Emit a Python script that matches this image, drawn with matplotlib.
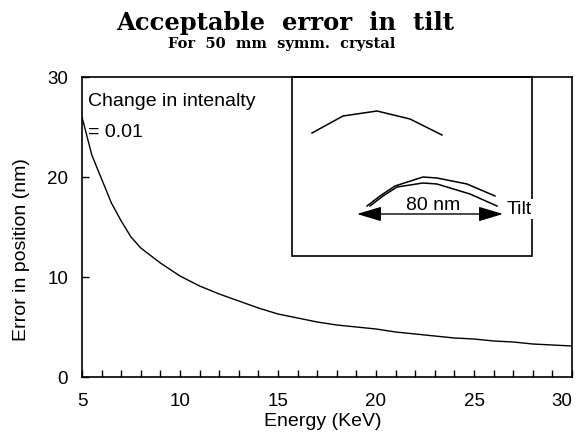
import numpy as np
import matplotlib.pyplot as plt
from matplotlib.patches import Rectangle

# ── data ───────────────────────────────────────────────────────────
energy = [5, 5.5, 6, 6.5, 7, 7.5, 8, 9, 10, 11, 12, 13, 14, 15, 16, 17,
          18, 19, 20, 21, 22, 23, 24, 25, 26, 27, 28, 29, 30]
err_pos = [26.0, 22.2, 19.8, 17.4, 15.6, 14.0, 12.9, 11.4, 10.1, 9.1,
           8.3, 7.6, 6.9, 6.3, 5.9, 5.5, 5.2, 5.0, 4.8, 4.5, 4.3, 4.1,
           3.9, 3.8, 3.6, 3.5, 3.3, 3.2, 3.1]
xticks = [5, 10, 15, 20, 25, 30]
yticks = [0, 10, 20, 30]

# inset sketch (inset units: x right, y down)
arc_top_x = [20, 51, 85, 118, 150]
arc_top_y = [56, 39, 34, 42, 58]
arc_a_x = [75, 88, 103, 131, 145, 175, 203]
arc_a_y = [129, 119, 109, 100, 101, 107, 119]
arc_b_x = [78, 91, 105, 131, 145, 178, 205]
arc_b_y = [129, 119, 110, 106, 107, 117, 129]
arrow_x = [65, 211]
arrow_y = 137

plt.rcParams['font.family'] = ['Liberation Sans', 'DejaVu Sans']

fig = plt.figure(figsize=(5.79, 4.35), dpi=100)
ax = fig.add_axes([82/579, 1-378/435, 490/579, 300/435])

ax.plot(energy, err_pos, color='black', lw=1.0)
ax.set_xlim(5, 30); ax.set_ylim(0, 30)
ax.set_xticks(xticks); ax.set_yticks(yticks)
ax.set_xticks(range(5, 31), minor=True)
ax.tick_params(direction='in', length=5, width=1, labelsize=13.5)
ax.tick_params(axis='x', which='minor', direction='in', length=5, width=1)
ax.tick_params(axis='x', pad=11)
ax.tick_params(axis='y', pad=10)
ax.get_xticklabels()[-1].set_horizontalalignment('right')
for s in ax.spines.values():
    s.set_linewidth(1.2)

ax.set_xlabel('Energy (KeV)', fontsize=14)
ax.xaxis.set_label_coords(0.492, -0.117)
ax.set_ylabel('Error in position (nm)', fontsize=14)
ax.yaxis.set_label_coords(-0.106, 0.427)

ax.text(0.012, 0.92, 'Change in intenalty', transform=ax.transAxes,
        fontsize=14, va='center', ha='left')
ax.text(0.012, 0.817, '= 0.01', transform=ax.transAxes,
        fontsize=14, va='center', ha='left')

# ── inset sketch ───────────────────────────────────────────────────
ins = fig.add_axes([292/579, 1-257/435, 240/579, 179/435])
ins.set_xlim(0, 240); ins.set_ylim(179, 0)
ins.axis('off')
ins.add_patch(Rectangle((0, 0), 240, 179, fill=False, lw=1.2,
                        ec='black', clip_on=False))
ins.plot(arc_top_x, arc_top_y, color='black', lw=1.1)
ins.plot(arc_a_x, arc_a_y, color='black', lw=1.1)
ins.plot(arc_b_x, arc_b_y, color='black', lw=1.1)
ins.annotate('', xy=(arrow_x[0], arrow_y), xytext=(arrow_x[1], arrow_y),
             arrowprops=dict(arrowstyle='<|-|>,head_length=1.5,head_width=0.45',
                             color='black', lw=1.0, shrinkA=0, shrinkB=0))
ins.text(141, 127, '80 nm', fontsize=14, ha='center', va='center')
ins.text(215, 132, 'Tilt', fontsize=14, ha='left', va='center', zorder=5,
         bbox=dict(facecolor='white', edgecolor='none', pad=1), clip_on=False)

# ── titles ─────────────────────────────────────────────────────────
fig.text(0.492, 1-23/435, 'Acceptable  error  in  tilt',
         family='DejaVu Serif', fontweight='bold', fontsize=17.5,
         ha='center', va='center')
fig.text(0.487, 1-44/435, 'For  50  mm  symm.  crystal',
         family='DejaVu Serif', fontweight='bold', fontsize=10.5,
         ha='center', va='center')

fig.savefig('out.png', dpi=100)
